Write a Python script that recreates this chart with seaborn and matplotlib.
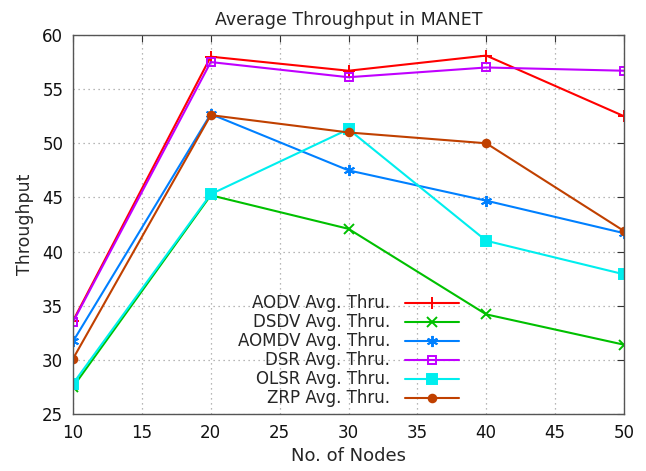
import matplotlib
matplotlib.use("Agg")
import matplotlib.pyplot as plt
import seaborn as sns
import pandas as pd

nodes = [10, 20, 30, 40, 50]
aodv = [33.6, 58.0, 56.7, 58.1, 52.5]
dsdv = [27.5, 45.2, 42.1, 34.2, 31.4]
aomdv = [31.7, 52.7, 47.5, 44.7, 41.7]
dsr = [33.5, 57.5, 56.1, 57.0, 56.7]
olsr = [27.8, 45.3, 51.3, 41.0, 37.9]
zrp = [30.1, 52.6, 51.0, 50.0, 41.9]

labels = ["AODV Avg. Thru.", "DSDV Avg. Thru.", "AOMDV Avg. Thru.",
          "DSR Avg. Thru.", "OLSR Avg. Thru.", "ZRP Avg. Thru."]
series = [aodv, dsdv, aomdv, dsr, olsr, zrp]
colors = ["#ff0000", "#00c000", "#0080ff", "#c000ff", "#00eeee", "#c04000"]
markers = ["+", "x", (6, 2, 0), "s", "s", "o"]
mfill = [True, True, True, False, True, True]
msizes = [9, 6.5, 8, 5.5, 6.5, 5.5]

sns.set_style("white")
plt.rcParams["font.family"] = ["DejaVu Sans"]

rows = []
for lab, vals in zip(labels, series):
    for n, v in zip(nodes, vals):
        rows.append({"nodes": n, "thr": v, "proto": lab})
df = pd.DataFrame(rows)

fig = plt.figure(figsize=(6.46, 4.71), dpi=100)
ax = fig.add_axes([73 / 646, 1 - 414 / 471, 551 / 646, 379 / 471])

for lab, col, mk, fill, ms in zip(labels, colors, markers, mfill, msizes):
    sub = df[df["proto"] == lab]
    sns.lineplot(data=sub, x="nodes", y="thr", ax=ax, color=col, label=lab,
                 marker=mk, markersize=ms, linewidth=1.5,
                 markerfacecolor=(col if fill else "none"),
                 markeredgecolor=col, markeredgewidth=1.4)

ax.set_xlim(10, 50)
ax.set_ylim(25, 60)
ax.set_xticks(range(10, 51, 5))
ax.set_yticks(range(25, 61, 5))
ax.grid(True, linestyle=(0, (1, 3)), color="#a0a0a0", linewidth=0.9)
ax.tick_params(direction="in", length=5, top=True, right=True, labelsize=12,
               colors="#333333", labelcolor="#111111", pad=7)
for sp in ax.spines.values():
    sp.set_color("#555555")
    sp.set_linewidth(1.0)

ax.set_title("Average Throughput in MANET", fontsize=12.5, pad=7)
ax.set_xlabel("No. of Nodes", fontsize=13, labelpad=4)
ax.set_ylabel("Throughput", fontsize=12.5, labelpad=6)

leg = ax.legend(loc="upper right", bbox_to_anchor=(467 / 646, 1 - 286 / 471),
                bbox_transform=fig.transFigure, frameon=False, borderpad=0,
                markerfirst=False, fontsize=12, handlelength=3.25,
                labelspacing=0.06, handletextpad=0.85)
for t in leg.get_texts():
    t.set_ha("right")
leg._legend_box.align = "right"

fig.savefig("out.png", dpi=100)
